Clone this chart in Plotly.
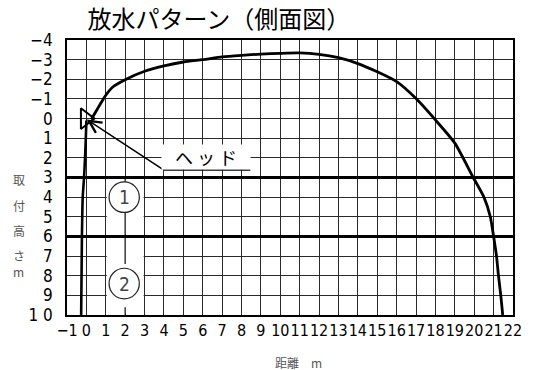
import plotly.graph_objects as go

# water jet trajectory: distance (m) vs height below the head (m, negative = above)
jet_x = [0.25, 0.68, 1, 1.36, 2, 3, 4, 5, 6, 7, 8, 9, 10, 11, 12, 13, 14, 15,
         16, 17, 18, 19, 19.95, 20.5, 20.83, 21.0, 21.15, 21.25, 21.37, 21.47]
jet_y = [0.05, -0.68, -1.19, -1.61, -1.98, -2.41, -2.68, -2.88, -3.0, -3.14,
         -3.22, -3.28, -3.32, -3.34, -3.27, -3.1, -2.8, -2.38, -1.88, -1.02,
         0.07, 1.25, 3, 4, 5, 6, 7, 8, 9, 10]

# near side spray falling straight down under the head
near_x = [0.0, -0.03, -0.07, -0.12, -0.19, -0.23, -0.27]
near_y = [0.1, 1, 2, 3, 4, 6, 10]

# head position
head_x = [-0.05]
head_y = [0]

# mounting height zones
zone_limits = [3, 6]
zone_labels = ['1', '2']
zone_label_y = [4.0, 8.4]

x_ticks = list(range(-1, 23))
x_ticktext = ['−1'] + [str(v) for v in range(0, 23)]
y_ticks = list(range(-4, 11))
y_ticktext = ['−4', '−3', '−2', '−1', '0', '1', '2', '3', '4', '5', '6', '7', '8', '9', '1 0']

TICK_FONT = 'Liberation Sans Narrow, DejaVu Sans Condensed, Liberation Sans, sans-serif'
JP_FONT = 'Noto Sans CJK JP'
GRID = '#2a2a2a'

fig = go.Figure()
fig.add_trace(go.Scatter(
    x=jet_x, y=jet_y, mode='lines',
    line=dict(color='black', width=2.8, shape='spline', smoothing=0.6),
    hoverinfo='skip'
))
fig.add_trace(go.Scatter(
    x=near_x, y=near_y, mode='lines',
    line=dict(color='black', width=2.6, shape='spline', smoothing=0.6),
    hoverinfo='skip'
))
fig.add_trace(go.Scatter(
    x=head_x, y=head_y, mode='markers',
    marker=dict(symbol='triangle-right-open', size=18, color='black',
                line=dict(color='black', width=2)),
    hoverinfo='skip'
))

shapes = []
# white masks behind the zone markers
bounds = zone_limits + [10]
for i, lim in enumerate(zone_limits):
    top = lim + 0.1
    bottom = bounds[i + 1] - (0.1 if i + 1 < len(zone_limits) else 0.08)
    shapes.append(dict(type='rect', xref='x', yref='y', x0=1.05, x1=2.95,
                       y0=top, y1=bottom, fillcolor='white', line_width=0,
                       layer='above'))
# centre gridline segments through the masks
for y0, y1 in [(3, 6), (6, 7.4), (9.6, 10)]:
    shapes.append(dict(type='line', x0=2, x1=2, y0=y0, y1=y1,
                       line=dict(color=GRID, width=1.4), layer='above'))
for yc in zone_label_y:
    shapes.append(dict(type='circle', x0=1.95 - 0.78, x1=1.95 + 0.78,
                       y0=yc - 0.78, y1=yc + 0.78, fillcolor='white',
                       line=dict(color='#222', width=1.2), layer='above'))
# zone boundary lines
for lim in zone_limits:
    shapes.append(dict(type='line', x0=-1, x1=22, y0=lim, y1=lim,
                       line=dict(color='black', width=3), layer='above'))
# underline of the head label
shapes.append(dict(type='line', x0=4, x1=8.45, y0=2.62, y1=2.62,
                   line=dict(color='black', width=1.5), layer='above'))

annotations = [
    dict(x=0.02, y=0.05, ax=4, ay=2.62, axref='x', ayref='y', xref='x', yref='y',
         text='', showarrow=True, arrowhead=5, arrowsize=1.6, arrowwidth=1.5,
         arrowcolor='black', standoff=0),
    dict(x=6.15, y=1.95, xref='x', yref='y', text='ヘ ッ ド', showarrow=False,
         font=dict(family=JP_FONT, size=18, color='black'),
         bgcolor='white', width=88, height=24, borderpad=0),
]
for lab, yc in zip(zone_labels, zone_label_y):
    annotations.append(dict(x=1.95, y=yc, xref='x', yref='y', text=lab,
                            showarrow=False,
                            font=dict(family=TICK_FONT, size=19, color='#444')))
# vertical y-axis title, one character per line
for ch, yp in zip(['取', '付', '高', 'さ', 'm'], [0.491, 0.40, 0.309, 0.218, 0.16]):
    annotations.append(dict(x=-0.108, y=yp, xref='paper', yref='paper', text=ch,
                            xanchor='center', yanchor='middle', showarrow=False,
                            font=dict(family=JP_FONT, size=12, color='#555')))
annotations.append(dict(x=0.519, y=-0.171, xref='paper', yref='paper',
                        text='距離　m', xanchor='center', yanchor='middle',
                        showarrow=False,
                        font=dict(family=JP_FONT, size=12, color='#555')))

fig.update_layout(
    width=534, height=370,
    margin=dict(l=67, r=14, t=40, b=55),
    paper_bgcolor='white',
    plot_bgcolor='white',
    showlegend=False,
    title=dict(text='放水パターン（側面図）', x=0.41, xanchor='center',
               y=0.947, yanchor='middle',
               font=dict(family=JP_FONT, size=24, color='black')),
    shapes=shapes,
    annotations=annotations,
)
fig.update_xaxes(
    range=[-1, 22], tickvals=x_ticks, ticktext=x_ticktext, tickangle=0,
    showgrid=True, gridcolor=GRID, gridwidth=1.4, zeroline=False,
    showline=True, mirror=True, linecolor='black', linewidth=1.5,
    tickfont=dict(family=TICK_FONT, size=16, color='black'),
    ticks='', fixedrange=True
)
fig.update_yaxes(
    range=[10, -4], tickvals=y_ticks, ticktext=y_ticktext,
    showgrid=True, gridcolor=GRID, gridwidth=1.4, zeroline=False,
    showline=True, mirror=True, linecolor='black', linewidth=1.5,
    tickfont=dict(family=TICK_FONT, size=17, color='black'),
    ticks='', ticklabelstandoff=9, fixedrange=True
)

# drop the default page margin so the figure sits at the window's corner
fig.write_html("out.html", config={'displayModeBar': False},
               post_script="document.body.style.margin = '0';")
